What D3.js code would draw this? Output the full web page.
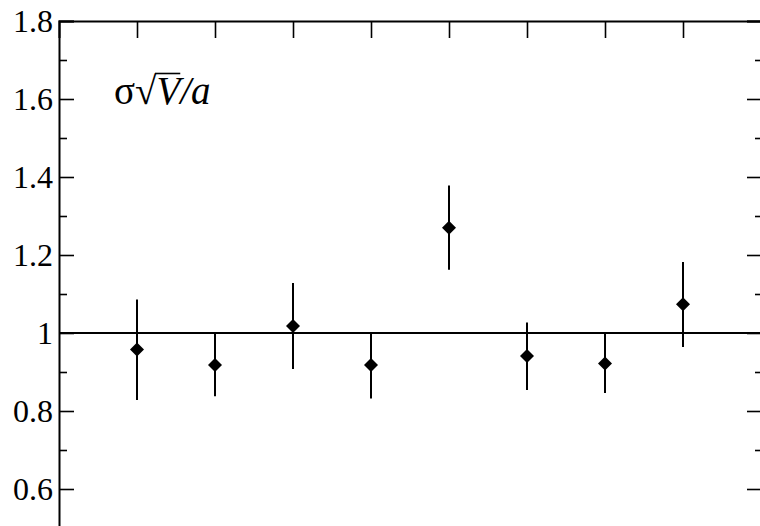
<!DOCTYPE html>
<html><head><meta charset="utf-8">
<script src="https://cdn.jsdelivr.net/npm/d3@7"></script>
<style>body{margin:0;background:#fff}svg{display:block}</style>
</head><body>
<svg id="c" width="760" height="526"></svg>
<script>
const categories = [1,2,3,4,5,6,7,8];
const values = [0.958, 0.918, 1.018, 0.918, 1.270, 0.941, 0.922, 1.074];
const errUp = [0.128, 0.082, 0.110, 0.082, 0.108, 0.086, 0.077, 0.108];
const errDown = [0.130, 0.080, 0.110, 0.086, 0.108, 0.087, 0.076, 0.110];
const majorTicks = [0.6, 0.8, 1.0, 1.2, 1.4, 1.6, 1.8];
const minorTicks = [0.7, 0.9, 1.1, 1.3, 1.5, 1.7];
const refLine = 1.0;

const FONT = '"Liberation Serif"';
const svg = d3.select("#c");
const x = d3.scaleLinear().domain([0, 9]).range([59, 761]);
const y = d3.scaleLinear().domain([0.5, 1.8]).range([528, 21]);
const fmt = d => d === 1 ? "1" : d.toFixed(1);

function style(g){
  g.attr("font-family", null);
  g.select(".domain").attr("stroke","#000").attr("stroke-width",2);
  g.selectAll(".tick line").attr("stroke","#000").attr("stroke-width",1.6);
}
// left axis
svg.append("g").attr("transform",`translate(${x(0)},0)`)
  .call(d3.axisLeft(y).tickValues(majorTicks).tickSize(-15).tickPadding(6).tickFormat(fmt))
  .call(style)
  .call(g=>g.selectAll("text").style("font-family",FONT).attr("font-size",32).attr("fill","#000").attr("dy","0.33em"));
svg.append("g").attr("transform",`translate(${x(0)},0)`)
  .call(d3.axisLeft(y).tickValues(minorTicks).tickSize(-8).tickFormat(""))
  .call(style).call(g=>g.select(".domain").remove());
// right axis
svg.append("g").attr("transform",`translate(${x(9)},0)`)
  .call(d3.axisRight(y).tickValues(majorTicks).tickSize(-14).tickFormat(""))
  .call(style);
svg.append("g").attr("transform",`translate(${x(9)},0)`)
  .call(d3.axisRight(y).tickValues(minorTicks).tickSize(-6).tickFormat(""))
  .call(style).call(g=>g.select(".domain").remove());
// top axis
svg.append("g").attr("transform",`translate(0,${y(1.8)})`)
  .call(d3.axisTop(x).tickValues(categories).tickSize(-17).tickFormat(""))
  .call(style);

// reference line
svg.append("line").attr("x1",x(0)).attr("x2",x(9)).attr("y1",y(refLine)).attr("y2",y(refLine))
  .attr("stroke","#000").attr("stroke-width",2);

// error bars
svg.append("g").selectAll("line").data(categories).join("line")
  .attr("x1",d=>x(d)).attr("x2",d=>x(d))
  .attr("y1",(d,i)=>y(values[i]+errUp[i])).attr("y2",(d,i)=>y(values[i]-errDown[i]))
  .attr("stroke","#000").attr("stroke-width",2);
// markers
const diamond = d3.symbol().type(d3.symbolDiamond2).size(125);
svg.append("g").selectAll("path").data(categories).join("path")
  .attr("d",diamond)
  .attr("transform",(d,i)=>`translate(${x(d)},${y(values[i])})`)
  .attr("fill","#000");

// label
const lab = svg.append("text").attr("x",114).attr("y",104)
  .style("font-family",FONT).attr("font-size",39).attr("fill","#000");
lab.append("tspan").text("σ");
lab.append("tspan").text("√");
lab.append("tspan").attr("font-style","italic").text("V");
lab.append("tspan").attr("font-style","italic").text("/a");
// radical overline (estimated, refined after the font is loaded)
const bar = svg.append("line").attr("x1",158).attr("x2",181)
  .attr("y1",73.5).attr("y2",73.5).attr("stroke","#000").attr("stroke-width",1.6);
Promise.all([
  document.fonts.load('39px "Liberation Serif"', "σ√"),
  document.fonts.load('italic 39px "Liberation Serif"', "V/a")
]).then(() => {
  const node = lab.node();
  const e1 = node.getExtentOfChar(1), e2 = node.getExtentOfChar(2);
  bar.attr("x1", e1.x + e1.width - 1.5).attr("x2", e2.x + e2.width);
}).catch(() => {});
</script>
</body></html>
